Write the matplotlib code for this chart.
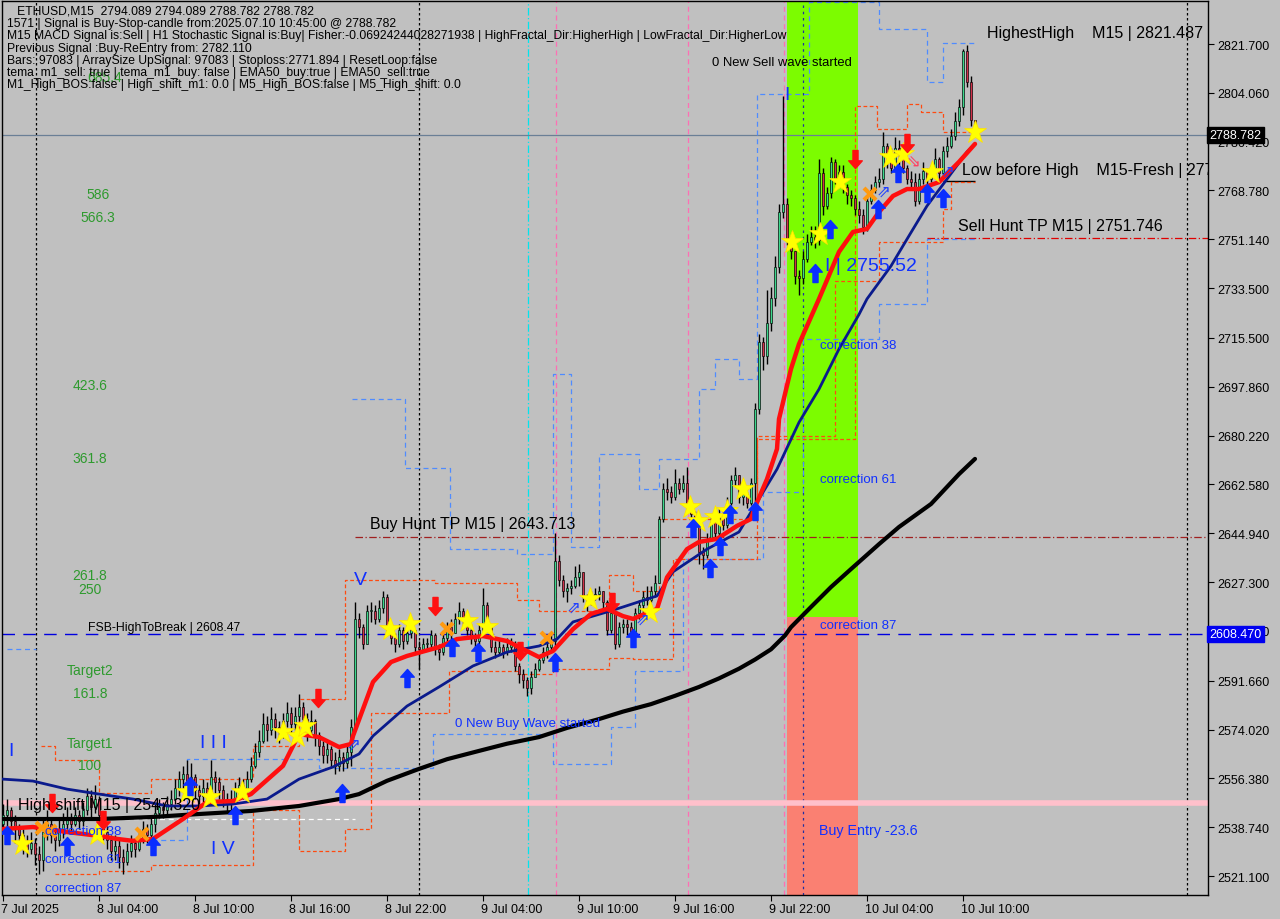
import matplotlib
matplotlib.use("Agg")
import matplotlib.pyplot as plt
from matplotlib.path import Path
from matplotlib.patches import Rectangle
import matplotlib.transforms as mtransforms
import numpy as np

plt.rcParams['font.family'] = ['Liberation Sans', 'DejaVu Sans']

# ---------------- data ----------------
header_lines = [
    "   ETHUSD,M15  2794.089 2794.089 2788.782 2788.782",
    "1571 | Signal is Buy-Stop-candle from:2025.07.10 10:45:00 @ 2788.782",
    "M15 MACD Signal is:Sell | H1 Stochastic Signal is:Buy| Fisher:-0.06924244028271938 | HighFractal_Dir:HigherHigh | LowFractal_Dir:HigherLow",
    "Previous Signal :Buy-ReEntry from: 2782.110",
    "Bars: 97083 | ArraySize UpSignal: 97083 | Stoploss:2771.894 | ResetLoop:false",
    "tema_m1_sell: true | tema_m1_buy: false | EMA50_buy:true | EMA50_sell:true",
    "M1_High_BOS:false | High_shift_m1: 0.0 | M5_High_BOS:false | M5_High_shift: 0.0",
]

first_open = 2540.0
closes = [
    2543, 2545, 2541, 2538, 2536, 2533, 2531, 2533, 2529, 2527,   # 0
    2537, 2540, 2536, 2534, 2538, 2540, 2542, 2540, 2543, 2541,   # 10
    2545, 2550, 2546, 2549, 2543, 2537, 2534, 2530, 2532, 2528,   # 20
    2526, 2530, 2533, 2531, 2535, 2538, 2536, 2540, 2544, 2546,   # 30
    2545, 2547, 2549, 2553, 2556, 2558, 2554, 2557, 2552, 2550,   # 40
    2553, 2551, 2557, 2555, 2552, 2549, 2547, 2549, 2552, 2554,   # 50
    2552, 2556, 2561, 2566, 2570, 2576, 2574, 2578, 2575, 2573,   # 60
    2577, 2580, 2576, 2579, 2582, 2578, 2574, 2577, 2572, 2568,   # 70
    2565, 2567, 2563, 2561, 2564, 2562, 2566, 2575, 2614, 2611,   # 80
    2605, 2617, 2617, 2614, 2618, 2622, 2610, 2607, 2605, 2610,   # 90
    2606, 2609, 2610, 2604, 2603, 2605, 2605, 2608, 2603, 2602,   # 100
    2607, 2611, 2609, 2614, 2617, 2614, 2610, 2607, 2606, 2610,   # 110
    2619, 2612, 2604, 2602, 2604, 2602, 2604, 2605, 2597, 2594,   # 120
    2592, 2589, 2593, 2596, 2599, 2602, 2604, 2606, 2635, 2628,   # 130
    2624, 2625, 2626, 2629, 2631, 2622, 2620, 2622, 2623, 2624,   # 140
    2620, 2610, 2616, 2605, 2611, 2612, 2611, 2609, 2616, 2619,   # 150
    2622, 2621, 2624, 2627, 2650, 2661, 2660, 2658, 2663, 2661,   # 160
    2663, 2655, 2652, 2650, 2638, 2637, 2643, 2649, 2645, 2652,   # 170
    2648, 2656, 2664, 2666, 2658, 2659, 2656, 2663, 2690, 2714,   # 180
    2709, 2721, 2730, 2741, 2761, 2764, 2751, 2747, 2738, 2737,   # 190
    2744, 2750, 2752, 2751, 2775, 2763, 2768, 2779, 2773, 2775.5, # 200
    2770, 2767, 2766, 2762, 2760, 2755.5, 2765, 2769, 2772, 2773, # 210
    2785, 2782, 2777, 2784, 2783, 2777, 2773, 2772, 2765, 2773,   # 220
    2776, 2773, 2776, 2780, 2775, 2783, 2785, 2788.5, 2794, 2799, # 230
    2819, 2808, 2794.089, 2788.782,                               # 240
]
highs = [
    2547, 2549, 2546, 2543, 2540, 2538, 2536, 2537, 2535, 2532,
    2542, 2545, 2542, 2539, 2542, 2544, 2546, 2544, 2546, 2545,
    2548, 2553, 2552, 2554, 2550, 2544, 2539, 2536, 2536, 2534,
    2531, 2533, 2536, 2535, 2538, 2541, 2540, 2543, 2547, 2549,
    2548, 2550, 2552, 2556, 2559, 2561, 2563, 2562, 2558, 2554,
    2556, 2555, 2563, 2559, 2557, 2554, 2551, 2552, 2555, 2557,
    2556, 2559, 2564, 2569, 2574, 2580, 2579, 2582, 2580, 2577,
    2580, 2584, 2582, 2582, 2587, 2584, 2580, 2581, 2578, 2573,
    2570, 2570, 2568, 2566, 2567, 2566, 2569, 2578, 2620, 2616,
    2612, 2619, 2620, 2619, 2621, 2624, 2623, 2611, 2609, 2612,
    2611, 2612, 2613, 2610, 2606, 2607, 2607, 2610, 2609, 2605,
    2609, 2613, 2614, 2616, 2620, 2618, 2614, 2612, 2609, 2612,
    2625, 2620, 2612, 2606, 2607, 2605, 2607, 2607, 2606, 2598,
    2596, 2593, 2595, 2598, 2601, 2604, 2606, 2608, 2645, 2637,
    2630, 2627, 2628, 2633, 2634, 2631, 2623, 2624, 2625, 2626,
    2624, 2621, 2618, 2617, 2613, 2614, 2614, 2613, 2618, 2621,
    2624, 2626, 2626, 2630, 2651, 2663, 2665, 2662, 2668, 2665,
    2666, 2669, 2656, 2653, 2650, 2640, 2645, 2652, 2652, 2654,
    2654, 2658, 2666, 2669, 2665, 2661, 2660, 2665, 2692, 2717,
    2716, 2733, 2734, 2745, 2764, 2803, 2766, 2752, 2745, 2740,
    2747, 2753, 2756, 2756, 2780, 2777, 2770, 2781, 2780, 2778,
    2778, 2771, 2769, 2767, 2765, 2762, 2767, 2771, 2774, 2777,
    2790, 2786, 2784, 2788, 2787, 2784, 2778, 2776, 2775, 2775,
    2779, 2777, 2778, 2784, 2781, 2785, 2788, 2791, 2797, 2802,
    2820, 2821.487, 2810, 2794.089,
]
lows = [
    2538, 2539, 2537, 2533, 2531, 2529, 2528, 2529, 2525, 2522,
    2523, 2534, 2533, 2530, 2532, 2535, 2538, 2537, 2539, 2538,
    2539, 2543, 2542, 2544, 2540, 2534, 2531, 2527, 2527, 2524,
    2522, 2525, 2528, 2528, 2530, 2533, 2533, 2534, 2537, 2542,
    2542, 2543, 2545, 2547, 2550, 2552, 2551, 2552, 2549, 2547,
    2548, 2548, 2550, 2551, 2549, 2546, 2544, 2545, 2548, 2550,
    2549, 2551, 2555, 2560, 2564, 2569, 2570, 2572, 2571, 2569,
    2571, 2575, 2572, 2574, 2577, 2574, 2570, 2572, 2568, 2565,
    2562, 2562, 2560, 2558, 2559, 2559, 2560, 2561, 2574, 2607,
    2603, 2605, 2613, 2612, 2613, 2616, 2608, 2605, 2602, 2604,
    2603, 2605, 2607, 2602, 2596, 2602, 2603, 2604, 2601, 2599,
    2601, 2606, 2606, 2609, 2612, 2611, 2608, 2605, 2604, 2605,
    2609, 2610, 2602, 2600, 2601, 2600, 2601, 2602, 2595, 2591,
    2589, 2586, 2587, 2593, 2595, 2598, 2600, 2602, 2604, 2626,
    2622, 2620, 2623, 2625, 2626, 2620, 2617, 2619, 2621, 2621,
    2618, 2608, 2609, 2603, 2604, 2609, 2608, 2607, 2608, 2614,
    2615, 2619, 2620, 2622, 2627, 2649, 2657, 2656, 2657, 2659,
    2660, 2653, 2650, 2646, 2634, 2632, 2636, 2642, 2643, 2644,
    2646, 2647, 2655, 2662, 2656, 2655, 2654, 2655, 2655, 2688,
    2704, 2706, 2718, 2727, 2739, 2759, 2749, 2744, 2735, 2731,
    2735, 2743, 2749, 2748, 2749, 2760, 2762, 2766, 2771, 2771,
    2768, 2764, 2763, 2760, 2757, 2753, 2754, 2764, 2768, 2770,
    2771, 2777, 2775, 2776, 2778, 2775, 2771, 2769, 2763, 2764,
    2771, 2771, 2772, 2775, 2773, 2774, 2781, 2784, 2787, 2792,
    2796, 2806, 2792, 2788.782,
]

time_tick_idx = [0, 24, 48, 72, 96, 120, 144, 168, 192, 216, 240]
time_tick_labels = ["7 Jul 2025", "8 Jul 04:00", "8 Jul 10:00", "8 Jul 16:00", "8 Jul 22:00",
                    "9 Jul 04:00", "9 Jul 10:00", "9 Jul 16:00", "9 Jul 22:00",
                    "10 Jul 04:00", "10 Jul 10:00"]
price_ticks = [2521.100, 2538.740, 2556.380, 2574.020, 2591.660, 2609.660, 2627.300,
               2644.940, 2662.580, 2680.220, 2697.860, 2715.500, 2733.500, 2751.140,
               2768.780, 2786.420, 2804.060, 2821.700]

# moving averages (sampled along the drawn lines)
red_idx = [0, 7.5, 16, 24, 28.5, 32.5, 37.5, 45, 51, 57.5, 62, 70, 74, 79, 84, 87, 87.5,
           92.5, 97, 101, 109, 113.5, 120, 126, 130, 134, 137.5, 142.5, 147, 151, 155,
           157.5, 163.5, 166, 171, 174, 178.5, 183.5, 187, 188, 191, 193.5, 194, 197,
           199, 204, 209, 212.5, 216, 219, 222.5, 226, 229, 234, 239, 243]
red_val = [2538.1, 2538.8, 2537.0, 2535.6, 2534.5, 2533.8, 2534.5, 2541.7, 2547.8, 2548.2,
           2550.7, 2560.9, 2572.4, 2571.3, 2567.7, 2568.8, 2571.7, 2591.2, 2598.4, 2600.6,
           2603.8, 2606.7, 2607.8, 2606.0, 2603.1, 2600.2, 2602.4, 2610.3, 2615.8, 2617.6,
           2615.0, 2614.0, 2617.6, 2629.0, 2639.2, 2641.8, 2642.9, 2647.6, 2650.1, 2654.4,
           2664.5, 2675.4, 2686.2, 2704.3, 2713.3, 2729.6, 2746.6, 2753.8, 2754.9, 2761.0,
           2766.8, 2769.3, 2769.3, 2771.8, 2779.1, 2785.6]
navy_idx = [0, 7.5, 16, 24, 32.5, 41, 49, 57.5, 66, 74, 82.5, 89, 92.5, 101, 109, 117.5,
            126, 134, 138.5, 142.5, 151, 155, 163.5, 167.5, 176, 184, 187, 193.5, 199, 204,
            209, 214, 216, 222, 226, 231, 236, 241, 243]
navy_val = [2556.1, 2555.4, 2552.5, 2550.7, 2548.9, 2546.4, 2546.4, 2547.1, 2548.9, 2556.1,
            2560.5, 2565.2, 2571.7, 2582.5, 2589.4, 2597.0, 2602.0, 2604.2, 2606.7, 2612.9,
            2616.5, 2618.3, 2622.3, 2631.0, 2639.2, 2645.4, 2652.6, 2668.1, 2685.0, 2697.0,
            2711.5, 2724.0, 2729.6, 2741.5, 2751.2, 2763.2, 2772.9, 2782.7, 2785.6]
black_idx = [0, 12, 24, 37, 49, 62, 74, 84, 89, 96, 104, 111, 119, 126, 134, 141, 149, 155,
             162, 168, 174, 179, 184, 188, 192, 195.5, 197, 202, 207, 212, 219, 224, 232,
             239, 243]
black_val = [2541.7, 2541.7, 2541.7, 2542.4, 2543.5, 2544.6, 2546.4, 2548.9, 2550.7, 2555.5,
             2559.8, 2563.3, 2566.3, 2568.9, 2571.3, 2574.6, 2577.8, 2580.5, 2583.2, 2586.2,
             2589.4, 2592.5, 2596.0, 2599.3, 2603.0, 2608.0, 2611.0, 2618.3, 2625.5, 2632.0,
             2641.0, 2647.2, 2655.5, 2666.3, 2671.8]

# price levels
current_price = 2788.782
fsb_level = 2608.47
high_shift_level = 2547.32
sell_hunt_tp = 2751.746
buy_hunt_tp = 2643.713
highest_high = 2821.487
low_before_high = 2772.2
white_level = 2541.7
zone_start, zone_end, zone_split = 196.0, 213.75, 2614.7

# signal markers
star_idx = [4.75, 23.5, 46, 51.75, 59.75, 70, 73.5, 75.5, 96.75, 101.75, 116, 121, 146.75,
            161.75, 171.75, 173.75, 178, 181, 185, 197.25, 204.25, 209.25, 221.75, 225,
            232.25, 243]
star_val = [2532.7, 2536.3, 2551.5, 2549.6, 2551.5, 2573.1, 2571.7, 2575.3, 2610.3, 2612.2,
            2613.2, 2611.1, 2621.2, 2616.5, 2654.4, 2649.4, 2650.8, 2653.0, 2660.9, 2750.2,
            2753.0, 2771.8, 2780.9, 2782.0, 2775.5, 2789.9]
up_idx = [1, 16, 37.5, 46.75, 58, 84.75, 101, 112.25, 118.75, 138, 157.5, 172.5, 176.75,
          179.25, 181.75, 188, 203, 206.75, 218.75, 223.75, 231, 235]
up_val = [2536.0, 2532.0, 2532.0, 2553.5, 2543.0, 2551.0, 2592.5, 2604.0, 2602.0, 2598.5,
          2607.0, 2647.0, 2632.5, 2640.5, 2652.0, 2653.0, 2739.0, 2755.0, 2762.0, 2775.0,
          2768.0, 2766.0]
down_idx = [12.25, 25, 78.75, 108, 129.25, 152.25, 213, 226]
down_val = [2547.5, 2541.5, 2585.5, 2618.5, 2602.5, 2620.0, 2780.0, 2786.0]
cross_idx = [9.75, 11.75, 34.75, 111, 136, 216.75]
cross_val = [2538.5, 2537.4, 2536.3, 2610.3, 2607.1, 2767.5]
hollow_up_idx = [87.5, 142.5, 159.75, 220, 236]
hollow_up_val = [2568.8, 2618.6, 2614.0, 2768.6, 2775.8]
hollow_dn_idx = [227.5]
hollow_dn_val = [2779.1]

# step channels (fractal bands)
blue_up_idx = [1, 8.25, None, 87.25, 100.5, 111.75, 128.5, 137.5, 142, 149, 159, 164, 174,
               178, 184, 188.5, 201.5, 219, 225, 231, 235, 243]
blue_up_val = [2603.1, 2603.1, None, 2693.4, 2668.5, 2639.2, 2637.4, 2702.5, 2640.0, 2673.6,
               2660.9, 2671.8, 2697.0, 2707.9, 2700.7, 2803.6, 2837.0, 2827.1, 2827.1, 2807.8,
               2821.9, 2821.9]
blue_lo_idx = [37.25, 46, 79, 84, 107.5, 128.5, 137.5, 152, 158, 170, 190, 200, 219, 231, 243]
blue_lo_val = [2534.0, 2563.4, 2560.0, 2560.0, 2572.4, 2572.4, 2561.6, 2575.0, 2595.0, 2635.6,
               2660.0, 2715.0, 2727.8, 2751.2, 2751.2]
orange_up_idx = [9.5, 13, 24, 37, 62.5, 74, 85.5, 108, 111.5, 128.5, 134, 151.5, 157.5, 164,
                 188.5, 191, 213, 218.5, 226, 229.5, 235, 243]
orange_up_val = [2568.0, 2563.0, 2551.0, 2556.0, 2568.0, 2585.0, 2628.0, 2627.0, 2627.0,
                 2621.0, 2617.0, 2630.0, 2624.0, 2650.0, 2679.0, 2679.0, 2799.3, 2791.0,
                 2800.0, 2797.0, 2790.0, 2790.0]
orange_lo_idx = [13, 24, 37, 62.5, 74, 85.5, 92, 107, 111.5, 128.5, 137.5, 151.5, 157.5,
                 167.5, 188.5, 208, 219, 222.5, 235, 237, 243]
orange_lo_val = [2522.0, 2523.0, 2525.0, 2545.0, 2530.0, 2538.0, 2580.0, 2580.0, 2595.0,
                 2594.0, 2596.0, 2600.0, 2599.5, 2635.6, 2680.0, 2736.0, 2750.2, 2750.2,
                 2762.0, 2772.0, 2772.0]

fib_labels = ["685.4", "586", "566.3", "423.6", "361.8", "261.8", "250", "Target2", "161.8",
              "Target1", "100"]
fib_idx = [25.5, 23.75, 23.75, 21.75, 21.75, 21.75, 21.75, 21.75, 21.75, 21.75, 21.75]
fib_val = [2809.8, 2767.5, 2759.2, 2698.5, 2672.1, 2629.8, 2624.8, 2595.5, 2587.2, 2569.1,
           2561.2]

wave_labels = ["I", "I I I", "I V", "V", "I"]
wave_idx = [1.25, 49.25, 52.0, 87.75, 195.25]
wave_val = [2566.3, 2569.5, 2530.9, 2628.4, 2803.6]

# ---------------- figure ----------------
BG = '#C0C0C0'
fig = plt.figure(figsize=(12.8, 9.2), dpi=100, facecolor=BG)
ax = fig.add_axes([2 / 1280, 24 / 920, 1206 / 1280, 894 / 920])
ax.set_facecolor(BG)
ax.set_xlim(-0.25, 301.25)
ax.set_ylim(2514.24, 2837.24)

# zones
ax.add_patch(Rectangle((zone_start, zone_split), zone_end - zone_start, 400,
                       facecolor='#7CFC00', edgecolor='none', zorder=0.5))
ax.add_patch(Rectangle((zone_start, 2400), zone_end - zone_start, zone_split - 2400,
                       facecolor='#FA8072', edgecolor='none', zorder=0.5))

# vertical separators
ax.axvline(8.25, color='black', lw=0.9, ls=(0, (2, 2)), zorder=1)
ax.axvline(104, color='black', lw=0.9, ls=(0, (2, 2)), zorder=1)
ax.axvline(296, color='black', lw=0.9, ls=(0, (2, 2)), zorder=1)
ax.axvline(131.25, color='#00E5EE', lw=0.9, ls=(0, (6, 2, 1, 2)), zorder=1)
for xv in (138.25, 171.25, 195.25):
    ax.axvline(xv, color='#FF6EB4', lw=0.9, ls=(0, (4, 3)), zorder=1)
ax.axvline(200, color='#2030A0', lw=0.9, ls=(0, (2, 3)), zorder=1)

# horizontal levels
ax.axhline(current_price, color='#6A7F96', lw=0.9, zorder=1.2)
ax.axhline(fsb_level, color='#0000E0', lw=1.0, ls=(0, (9, 6)), zorder=1.2)
ax.axhline(high_shift_level, color='#FFC0CB', lw=4, zorder=1.1)
ax.hlines(white_level, -0.25, 88, color='white', lw=0.9, ls=(0, (4, 3)), zorder=1.2)
ax.hlines(sell_hunt_tp, 231, 301.25, color='#E00000', lw=0.9, ls=(0, (6, 2, 1, 2)), zorder=1.2)
ax.hlines(buy_hunt_tp, 88, 301.25, color='#A02020', lw=0.9, ls=(0, (6, 2, 1, 2)), zorder=1.2)
ax.hlines(low_before_high, 235, 243, color='black', lw=1.0, zorder=1.2)


def step_line(xs, ys, **kw):
    xs = [np.nan if v is None else v for v in xs]
    ys = [np.nan if v is None else v for v in ys]
    ax.plot(xs, ys, drawstyle='steps-post', **kw)


step_line(blue_up_idx, blue_up_val, color='#4F8BFF', lw=0.9, ls=(0, (4, 3)), zorder=1.5)
step_line(blue_lo_idx, blue_lo_val, color='#4F8BFF', lw=0.9, ls=(0, (4, 3)), zorder=1.5)
step_line(orange_up_idx, orange_up_val, color='#FF4A10', lw=0.9, ls=(0, (3, 2)), zorder=1.6)
step_line(orange_lo_idx, orange_lo_val, color='#FF4A10', lw=0.9, ls=(0, (3, 2)), zorder=1.6)

# candles
n = len(closes)
xi = np.arange(n)
c = np.array(closes, dtype=float)
o = np.array([first_open] + closes[:-1], dtype=float)
hi = np.maximum(np.array(highs, dtype=float), np.maximum(o, c))
lo = np.minimum(np.array(lows, dtype=float), np.minimum(o, c))
ax.vlines(xi, lo, hi, color='black', lw=1.0, zorder=3)
bull = c >= o
bb = np.minimum(o, c)
bh = np.maximum(np.abs(c - o), 0.35)
ax.bar(xi[bull], bh[bull], bottom=bb[bull], width=0.72, color='#3CD88C',
       edgecolor='black', linewidth=0.45, zorder=3.5)
ax.bar(xi[~bull], bh[~bull], bottom=bb[~bull], width=0.72, color='#D0304A',
       edgecolor='black', linewidth=0.45, zorder=3.5)

# moving averages
ax.plot(black_idx, black_val, color='black', lw=3.0, zorder=4, solid_capstyle='round',
        solid_joinstyle='round')
ax.plot(navy_idx, navy_val, color='#0A1A8C', lw=2.0, zorder=4.1, solid_joinstyle='round')
ax.plot(red_idx, red_val, color='#FF0F0F', lw=3.2, zorder=4.2, solid_capstyle='round',
        solid_joinstyle='round')

# markers
up_marker = Path([(0, 1), (0.75, 0.15), (0.28, 0.15), (0.28, -1), (-0.28, -1), (-0.28, 0.15),
                  (-0.75, 0.15), (0, 1)], closed=True)
dn_marker = Path([(0, -1), (0.75, -0.15), (0.28, -0.15), (0.28, 1), (-0.28, 1), (-0.28, -0.15),
                  (-0.75, -0.15), (0, -1)], closed=True)
ax.plot(star_idx, star_val, ls='none', marker='*', ms=17, mfc='#FFFF00', mec='#FFE000',
        mew=0.5, zorder=6)
ax.plot(up_idx, up_val, ls='none', marker=up_marker, ms=13, mfc='#0A2EFF', mec='#0A2EFF',
        zorder=6)
ax.plot(down_idx, down_val, ls='none', marker=dn_marker, ms=13, mfc='#FF1010', mec='#FF1010',
        zorder=6)
ax.plot(cross_idx, cross_val, ls='none', marker='x', ms=9, mec='#FF9A10', mew=3, zorder=6)
for xv, yv in zip(hollow_up_idx, hollow_up_val):
    ax.text(xv, yv, '\u21d7', color='#2040FF', fontsize=12, ha='center', va='center',
            family='DejaVu Sans', zorder=6)
for xv, yv in zip(hollow_dn_idx, hollow_dn_val):
    ax.text(xv, yv, '\u21d8', color='#FF4060', fontsize=12, ha='center', va='center',
            family='DejaVu Sans', zorder=6)

# wave labels
for t, xv, yv in zip(wave_labels, wave_idx, wave_val):
    ax.text(xv, yv, t, color='#1030FF', fontsize=14, ha='left', va='center', zorder=7)
ax.text(205.5, 2741.5, 'I | 2755.52', color='#1030FF', fontsize=14, ha='left', va='center',
        zorder=7)

# fib labels
for t, xv, yv in zip(fib_labels, fib_idx, fib_val):
    ax.text(xv, yv, t, color='#2E9A2E', fontsize=10, ha='center', va='center', zorder=7)

# level texts
big = 11.5
ax.text(246, 2826.0, 'HighestHigh    M15 | %.3f' % highest_high, fontsize=big, va='center',
        ha='left', zorder=7)
t1 = ax.text(239.75, 2776.5, 'Low before High    M15-Fresh | 2772.189', fontsize=big,
             va='center', ha='left', zorder=7)
t1.set_clip_on(True)
ax.text(238.75, 2756.3, 'Sell Hunt TP M15 | %.3f' % sell_hunt_tp, fontsize=big, va='center',
        ha='left', zorder=7)
ax.text(91.75, 2648.3, 'Buy Hunt TP M15 | %.3f' % buy_hunt_tp, fontsize=big, va='center',
        ha='left', zorder=7)
ax.text(21.25, 2611.1, 'FSB-HighToBreak | %.2f' % fsb_level, fontsize=8.8, va='center',
        ha='left', zorder=7)
ax.text(3.75, 2546.8, 'High shift M15 | %.3f' % high_shift_level, fontsize=big, va='center',
        ha='left', zorder=7)
ax.text(177.25, 2815.2, '0 New Sell wave started', fontsize=9.4, va='center', ha='left',
        zorder=7)
ax.text(113, 2576.4, '0 New Buy Wave started', fontsize=9.5, color='#1030FF', va='center',
        ha='left', zorder=7)
for t, yv in (('correction 38', 2712.9), ('correction 61', 2664.5), ('correction 87', 2611.8)):
    ax.text(204.25, yv, t, fontsize=9.5, color='#1030FF', va='center', ha='left', zorder=7)
ax.text(204.0, 2537.7, 'Buy Entry -23.6', fontsize=10.3, color='#1030FF', va='center',
        ha='left', zorder=7)
for t, yv in (('correction 38', 2537.4), ('correction 61', 2527.2), ('correction 87', 2516.8)):
    ax.text(10.5, yv, t, fontsize=9.5, color='#1030FF', va='center', ha='left', zorder=7)

# header text
for k, line in enumerate(header_lines):
    ax.text(5 / 1206, 1 - (10 + 12.2 * k) / 894, line, transform=ax.transAxes, fontsize=8.7,
            va='center', ha='left', zorder=8)

# axes styling
for s in ax.spines.values():
    s.set_color('black')
    s.set_linewidth(1.0)
ax.yaxis.tick_right()
ax.set_yticks(price_ticks)
ax.set_yticklabels(['%.3f' % v for v in price_ticks], fontsize=9)
ax.tick_params(axis='y', direction='out', length=4, width=0.8, pad=3, colors='black')
ax.set_xticks(time_tick_idx)
ax.set_xticklabels(time_tick_labels, fontsize=9, ha='left')
ax.tick_params(axis='x', direction='out', length=4, width=0.8, pad=2, colors='black')
shift = mtransforms.ScaledTranslation(-2 / 100, 0, fig.dpi_scale_trans)
for lab in ax.get_xticklabels():
    lab.set_transform(lab.get_transform() + shift)

trans = mtransforms.blended_transform_factory(ax.transAxes, ax.transData)
ax.text(1.0012, current_price, '%.3f' % current_price, transform=trans, fontsize=9,
        color='white', va='center', ha='left', clip_on=False, zorder=10,
        bbox=dict(boxstyle='square,pad=0.18', fc='black', ec='black'))
ax.text(1.0012, fsb_level, '%.3f' % fsb_level, transform=trans, fontsize=9,
        color='white', va='center', ha='left', clip_on=False, zorder=10,
        bbox=dict(boxstyle='square,pad=0.18', fc='#0000F0', ec='#0000F0'))

fig.savefig('out.png', dpi=100, facecolor=BG)
